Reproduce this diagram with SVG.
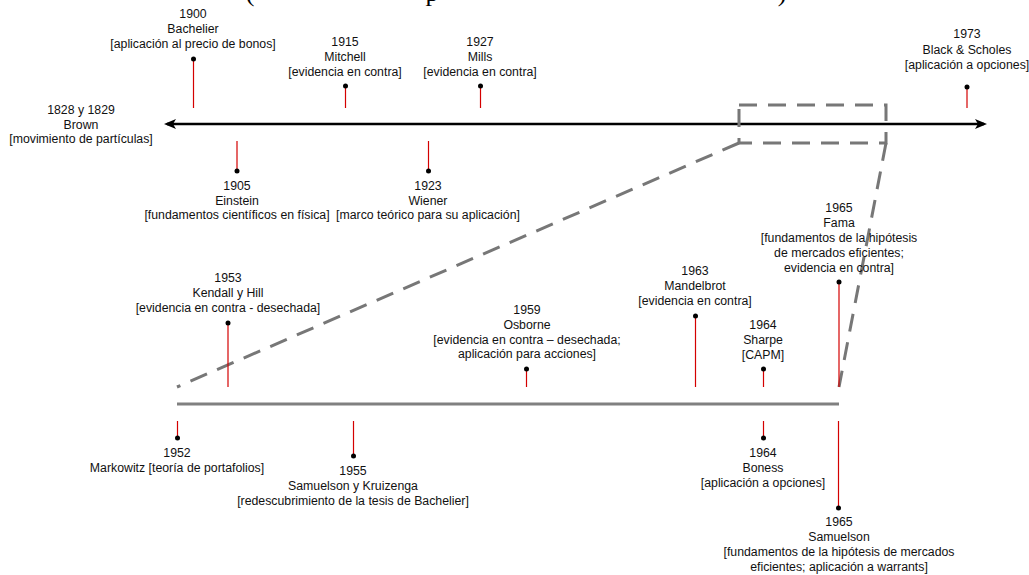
<svg xmlns="http://www.w3.org/2000/svg" width="1029" height="575" viewBox="0 0 1029 575">
<defs>
<style>
text{font-family:"Liberation Sans",Arial,sans-serif;font-size:12.3px;fill:#111;text-anchor:middle}
.ttl{font-family:"Liberation Serif","Times New Roman",serif;font-size:26px;fill:#000}
.tick{stroke:#d40000;stroke-width:1.2;fill:none}
.dot{fill:#000}
.dash{stroke:#777;stroke-width:3;fill:none;stroke-dasharray:18 11}
</style>
<marker id="ah" viewBox="0 0 12 10" refX="9" refY="5" markerWidth="12" markerHeight="10" markerUnits="userSpaceOnUse" orient="auto-start-reverse">
<path d="M0,0 L12,5 L0,10 L3,5 z" fill="#000"/>
</marker>
</defs>
<rect width="1029" height="575" fill="#fff"/>
<g id="title-fragment">
<text class="ttl" x="250" y="0.5">(</text>
<text class="ttl" x="432" y="1">p</text>
<text class="ttl" x="782" y="1">)</text>
</g>
<g id="connectors">
<line x1="167" y1="124" x2="984" y2="124" stroke="#000" stroke-width="2.5" marker-start="url(#ah)" marker-end="url(#ah)"/>
<line x1="177" y1="404" x2="839" y2="404" stroke="#808080" stroke-width="3"/>
<rect class="dash" x="739" y="105" width="147" height="38"/>
<line class="dash" x1="739" y1="143" x2="177" y2="387"/>
<line class="dash" x1="886" y1="143" x2="839" y2="387"/>
</g>
<g id="brown">
<text x="81" y="114.4">1828 y 1829</text>
<text x="81" y="128.9">Brown</text>
<text x="81" y="143.4">[movimiento de partículas]</text>
</g>
<g id="bachelier">
<line class="tick" x1="193.5" y1="59" x2="193.5" y2="108"/>
<circle class="dot" cx="193.5" cy="59" r="2.5"/>
<text x="193" y="18.4">1900</text>
<text x="193" y="33.4">Bachelier</text>
<text x="193" y="48.4">[aplicación al precio de bonos]</text>
</g>
<g id="mitchell">
<line class="tick" x1="345.5" y1="86" x2="345.5" y2="108"/>
<circle class="dot" cx="345.5" cy="86" r="2.5"/>
<text x="345" y="46.4">1915</text>
<text x="345" y="61.4">Mitchell</text>
<text x="345" y="76.4">[evidencia en contra]</text>
</g>
<g id="mills">
<line class="tick" x1="480.5" y1="86" x2="480.5" y2="108"/>
<circle class="dot" cx="480.5" cy="86" r="2.5"/>
<text x="480" y="46.4">1927</text>
<text x="480" y="61.4">Mills</text>
<text x="480" y="76.4">[evidencia en contra]</text>
</g>
<g id="black-scholes">
<line class="tick" x1="967" y1="87" x2="967" y2="108"/>
<circle class="dot" cx="967" cy="87" r="2.5"/>
<text x="967" y="38.4">1973</text>
<text x="967" y="54">Black &amp; Scholes</text>
<text x="967" y="69.4">[aplicación a opciones]</text>
</g>
<g id="einstein">
<line class="tick" x1="237" y1="141" x2="237" y2="171"/>
<circle class="dot" cx="237" cy="171" r="2.5"/>
<text x="237" y="190.4">1905</text>
<text x="237" y="204.9">Einstein</text>
<text x="237" y="219.4">[fundamentos científicos en física]</text>
</g>
<g id="wiener">
<line class="tick" x1="428.5" y1="141" x2="428.5" y2="171"/>
<circle class="dot" cx="428.5" cy="171" r="2.5"/>
<text x="428" y="190.4">1923</text>
<text x="428" y="204.9">Wiener</text>
<text x="428" y="219.4">[marco teórico para su aplicación]</text>
</g>
<g id="kendall-hill">
<line class="tick" x1="228" y1="323" x2="228" y2="387"/>
<circle class="dot" cx="228" cy="323" r="2.5"/>
<text x="228" y="281.9">1953</text>
<text x="228" y="296.9">Kendall y Hill</text>
<text x="228" y="311.9">[evidencia en contra - desechada]</text>
</g>
<g id="osborne">
<line class="tick" x1="526.5" y1="369" x2="526.5" y2="387"/>
<circle class="dot" cx="526.5" cy="369" r="2.5"/>
<text x="527" y="314">1959</text>
<text x="527" y="329">Osborne</text>
<text x="527" y="343.5">[evidencia en contra – desechada;</text>
<text x="527" y="358">aplicación para acciones]</text>
</g>
<g id="mandelbrot">
<line class="tick" x1="695.5" y1="316" x2="695.5" y2="387"/>
<circle class="dot" cx="695.5" cy="316" r="2.5"/>
<text x="695" y="275">1963</text>
<text x="695" y="290">Mandelbrot</text>
<text x="695" y="305">[evidencia en contra]</text>
</g>
<g id="sharpe">
<line class="tick" x1="763.5" y1="369" x2="763.5" y2="387"/>
<circle class="dot" cx="763.5" cy="369" r="2.5"/>
<text x="763" y="329">1964</text>
<text x="763" y="344">Sharpe</text>
<text x="763" y="359">[CAPM]</text>
</g>
<g id="fama">
<line class="tick" x1="839" y1="282" x2="839" y2="387"/>
<circle class="dot" cx="839" cy="282" r="2.5"/>
<text x="839" y="212">1965</text>
<text x="839" y="227">Fama</text>
<text x="839" y="242">[fundamentos de la hipótesis</text>
<text x="839" y="257">de mercados eficientes;</text>
<text x="839" y="272">evidencia en contra]</text>
</g>
<g id="markowitz">
<line class="tick" x1="177.5" y1="421" x2="177.5" y2="438"/>
<circle class="dot" cx="177.5" cy="438" r="2.5"/>
<text x="177" y="457.4">1952</text>
<text x="177" y="472.4">Markowitz [teoría de portafolios]</text>
</g>
<g id="samuelson-kruizenga">
<line class="tick" x1="353.5" y1="421" x2="353.5" y2="456"/>
<circle class="dot" cx="353.5" cy="456" r="2.5"/>
<text x="353" y="475.4">1955</text>
<text x="353" y="490.4">Samuelson y Kruizenga</text>
<text x="353" y="505.4">[redescubrimiento de la tesis de Bachelier]</text>
</g>
<g id="boness">
<line class="tick" x1="763.5" y1="421" x2="763.5" y2="438"/>
<circle class="dot" cx="763.5" cy="438" r="2.5"/>
<text x="763" y="457.4">1964</text>
<text x="763" y="472.4">Boness</text>
<text x="763" y="487.4">[aplicación a opciones]</text>
</g>
<g id="samuelson">
<line class="tick" x1="838.5" y1="421" x2="838.5" y2="508"/>
<circle class="dot" cx="838.5" cy="508" r="2.5"/>
<text x="839" y="526.4">1965</text>
<text x="839" y="541.4">Samuelson</text>
<text x="839" y="556.4">[fundamentos de la hipótesis de mercados</text>
<text x="839" y="571.4">eficientes; aplicación a warrants]</text>
</g>
</svg>
